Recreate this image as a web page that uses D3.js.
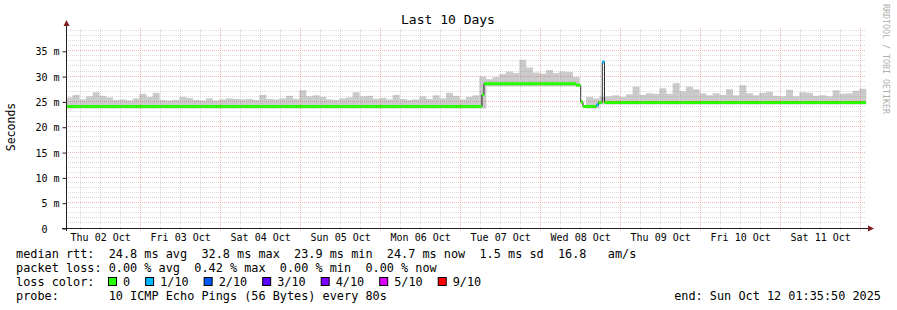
<!DOCTYPE html>
<html lang="en">
<head>
<meta charset="UTF-8">
<script src="https://cdn.jsdelivr.net/npm/d3@7"></script>
<style>
  body { margin: 0; background: #fff; }
  svg text { font-family: "DejaVu Sans Mono", monospace; fill: #000; white-space: pre; }
  .grid { stroke: rgba(143,143,143,0.32); stroke-dasharray: 1,1; shape-rendering: crispEdges; }
  .mgrid { stroke: rgba(222,79,79,0.42); stroke-dasharray: 1,1; shape-rendering: crispEdges; }
</style>
</head>
<body>
<svg width="897" height="310"></svg>
<script>
var startTime = "2025-10-02T01:35:50";
var endTime = "2025-10-12T01:35:50";
var yTicks = [0, 5, 10, 15, 20, 25, 30, 35];

// top of the smoke (ms), one value per 2 hours from the start
var smokeMax = [
  25.8, 26.3, 25.4, 26.0, 26.8, 26.1, 25.8, 25.3, 25.4, 25.2, 25.6, 26.5,
  25.9, 26.7, 25.3, 25.2, 25.3, 25.9, 25.7, 25.3, 25.2, 25.6, 25.2, 25.4,
  25.6, 25.5, 25.4, 25.5, 25.3, 26.3, 25.5, 25.4, 25.6, 26.1, 25.5, 27.2,
  26.0, 26.2, 25.9, 25.4, 25.3, 25.6, 25.8, 26.8, 26.0, 26.1, 25.5, 25.7,
  25.4, 26.3, 25.5, 25.3, 25.4, 26.0, 25.5, 26.2, 25.6, 26.7, 26.1, 25.4,
  25.9, 26.2, 29.9, 29.4, 29.8, 30.4, 30.9, 30.6, 33.2, 31.7, 30.7, 30.5,
  31.2, 30.6, 30.9, 30.8, 29.8, 26.0, 25.9, 25.6, 26.0, 26.0, 26.2, 25.9,
  26.4, 27.9, 26.3, 26.6, 26.5, 27.6, 26.5, 28.6, 27.0, 27.9, 27.4, 26.6,
  26.2, 26.6, 26.3, 27.4, 26.2, 28.2, 26.6, 26.2, 26.7, 26.9, 26.1, 26.0,
  27.3, 26.0, 26.8, 26.7, 26.1, 26.2, 26.0, 27.2, 26.5, 26.6, 27.1, 27.5
];

// bottom of the smoke (ms)
var floorTimes = ["2025-10-02T01:35:50", "2025-10-07T06:23:00", "2025-10-07T06:59:00",
                  "2025-10-08T12:00:00", "2025-10-08T17:20:00"];
var floorValues = [23.6, 25.8, 28.0, 23.6, 24.4];

// median rtt (ms) and number of lost pings, each held until the next time
var medianTimes = ["2025-10-02T01:35:50", "2025-10-07T06:23:00", "2025-10-07T06:59:00",
                   "2025-10-08T10:36:00", "2025-10-08T12:00:00", "2025-10-08T12:41:00",
                   "2025-10-08T16:44:00", "2025-10-08T17:20:00", "2025-10-08T18:29:00",
                   "2025-10-08T19:08:00"];
var medianValues = [24.0, 26.3, 28.5, 28.2, 24.9, 24.0, 24.3, 24.8, 32.8, 24.8];
var medianLoss = [0, 0, 0, 0, 0, 0, 1, 0, 1, 0];

var lossLabels = ["0", "1/10", "2/10", "3/10", "4/10", "5/10", "9/10"];
var lossColors = ["#26ff00", "#00b8ff", "#0059ff", "#5e00ff", "#7e00ff", "#dd00ff", "#ff0000"];

var rttLine = "median rtt:  24.8 ms avg  32.8 ms max  23.9 ms min  24.7 ms now  1.5 ms sd  16.8   am/s";
var lossLine = "packet loss: 0.00 % avg  0.42 % max  0.00 % min  0.00 % now";
var probeLine = "probe:       10 ICMP Echo Pings (56 Bytes) every 80s";
var endLine = "end: Sun Oct 12 01:35:50 2025";

function draw() {
  var svg = d3.select("svg");
  var parse = d3.utcParse("%Y-%m-%dT%H:%M:%S");
  var t0 = parse(startTime), t1 = parse(endTime);

  var x = d3.scaleUtc().domain([t0, t1]).range([66, 866]);
  var y = d3.scaleLinear().domain([0, 39.5]).range([228, 28]);
  var px = function(v) { return Math.floor(v) + 0.5; };

  svg.append("rect").attr("width", 897).attr("height", 310).attr("fill", "#fff");

  var plot = svg.append("g");
  plot.append("clipPath").attr("id", "clip")
    .append("rect").attr("x", 66).attr("y", 22).attr("width", 801).attr("height", 206);

  // smoke
  var fTimes = floorTimes.map(parse);
  function floorAt(t) {
    var i = d3.bisectRight(fTimes, t) - 1;
    return floorValues[Math.max(0, i)];
  }
  plot.append("g").attr("clip-path", "url(#clip)")
    .selectAll("rect").data(smokeMax).enter().append("rect")
    .attr("x", function(d, i) { return x(d3.utcHour.offset(t0, 2 * i)); })
    .attr("width", function(d, i) {
      return x(d3.utcHour.offset(t0, 2 * i + 2)) - x(d3.utcHour.offset(t0, 2 * i)) + 0.3;
    })
    .attr("y", function(d) { return y(d); })
    .attr("height", function(d, i) { return y(floorAt(d3.utcHour.offset(t0, 2 * i))) - y(d); })
    .attr("fill", "#cbcbcb");

  // median: thin dark step line then coloured pieces
  var mTimes = medianTimes.map(parse);
  var pts = mTimes.map(function(t, i) { return [t, medianValues[i]]; });
  pts.push([t1, medianValues[medianValues.length - 1]]);
  var line = d3.line()
    .x(function(d) { return x(d[0]); })
    .y(function(d) { return y(d[1]); })
    .curve(d3.curveStepAfter);
  plot.append("path").datum(pts)
    .attr("d", line).attr("fill", "none").attr("stroke", "#202020").attr("stroke-width", 1);

  plot.append("g").selectAll("line").data(medianValues).enter().append("line")
    .attr("x1", function(d, i) { return x(mTimes[i]); })
    .attr("x2", function(d, i) { return i + 1 < mTimes.length ? x(mTimes[i + 1]) : x(t1); })
    .attr("y1", function(d) { return y(d); })
    .attr("y2", function(d) { return y(d); })
    .attr("stroke", function(d, i) { return lossColors[medianLoss[i]]; })
    .attr("stroke-width", 3);

  // grid, drawn over the graph like rrdtool does
  var grid = svg.append("g");
  var hours = d3.utcHour.every(6).range(t0, t1).filter(function(t) { return t.getUTCHours() != 0; });
  var days = d3.utcDay.range(d3.utcHour.offset(t0, 1), t1);
  var minorY = d3.range(1, 40).filter(function(v) { return v % 5 != 0; });

  grid.selectAll(".gy").data(minorY).enter().append("line").attr("class", "grid")
    .attr("x1", 66).attr("x2", 866)
    .attr("y1", function(d) { return px(y(d)); }).attr("y2", function(d) { return px(y(d)); });
  grid.selectAll(".gx").data(hours).enter().append("line").attr("class", "grid")
    .attr("x1", function(d) { return px(x(d)); }).attr("x2", function(d) { return px(x(d)); })
    .attr("y1", 230).attr("y2", 28);
  grid.selectAll(".my").data(yTicks.slice(1)).enter().append("line").attr("class", "mgrid")
    .attr("x1", 66).attr("x2", 866)
    .attr("y1", function(d) { return px(y(d)); }).attr("y2", function(d) { return px(y(d)); });
  grid.selectAll(".mx").data(days).enter().append("line").attr("class", "mgrid")
    .attr("x1", function(d) { return px(x(d)); }).attr("x2", function(d) { return px(x(d)); })
    .attr("y1", 231).attr("y2", 28);

  // axes
  var yAxis = d3.axisLeft(y).tickValues(yTicks).tickSize(4).tickPadding(3)
    .tickFormat(function(d) { return d == 0 ? "0  " : d + " m"; });
  var ya = svg.append("g").attr("transform", "translate(66.5,0.5)").call(yAxis);
  ya.select(".domain").remove();
  ya.selectAll("line").attr("stroke", "#1f1f1f");
  ya.selectAll("text").attr("font-size", 10).attr("font-family", "DejaVu Sans Mono").attr("dy", "0.36em");

  svg.append("line").attr("x1", 66.5).attr("x2", 66.5).attr("y1", 231).attr("y2", 24)
    .attr("stroke", "#1f1f1f");
  svg.append("line").attr("x1", 62).attr("x2", 869).attr("y1", 228.5).attr("y2", 228.5)
    .attr("stroke", "#1f1f1f");
  svg.append("path").attr("d", "M63.5,26L69.5,26L66.5,20Z").attr("fill", "#801f1f");
  svg.append("path").attr("d", "M868,225.5L868,231.5L874,228.5Z").attr("fill", "#801f1f");

  var noons = d3.utcDay.range(d3.utcDay.floor(t0), t1)
    .map(function(d) { return d3.utcHour.offset(d, 12); })
    .filter(function(d) { return d < t1; });
  var fmt = d3.utcFormat("%a %d %b");
  svg.append("g").selectAll("text").data(noons).enter().append("text")
    .attr("x", function(d) { return x(d); }).attr("y", 241)
    .attr("text-anchor", "middle").attr("font-size", 10)
    .text(fmt);

  // titles
  svg.append("text").attr("x", 448).attr("y", 24).attr("text-anchor", "middle")
    .attr("font-size", 13).text("Last 10 Days");
  svg.append("text").attr("transform", "translate(15,127) rotate(-90)")
    .attr("text-anchor", "middle").attr("font-size", 11.5).text("Seconds");
  svg.append("text").attr("transform", "translate(883,4) rotate(90)")
    .attr("font-size", 8.3).style("fill", "#b0b0b0").text("RRDTOOL / TOBI OETIKER");

  // legend
  var cw = 7.13, fs = 11.85;
  svg.append("text").attr("x", 16).attr("y", 258).attr("font-size", fs).text(rttLine);
  svg.append("text").attr("x", 16).attr("y", 272).attr("font-size", fs).text(lossLine);
  svg.append("text").attr("x", 16).attr("y", 286).attr("font-size", fs).text("loss color:");
  svg.append("text").attr("x", 16).attr("y", 299.5).attr("font-size", fs).text(probeLine);
  svg.append("text").attr("x", 881).attr("y", 299.5).attr("text-anchor", "end")
    .attr("font-size", fs).text(endLine);

  var bx = 108.5, items = [];
  lossLabels.forEach(function(l, i) {
    items.push({label: l, color: lossColors[i], x: bx});
    bx = bx + 15 + l.length * cw + 15;
  });
  var leg = svg.append("g").selectAll("g").data(items).enter().append("g");
  leg.append("rect")
    .attr("x", function(d) { return d.x; }).attr("y", 277.5)
    .attr("width", 8).attr("height", 8)
    .attr("fill", function(d) { return d.color; }).attr("stroke", "#000");
  leg.append("text")
    .attr("x", function(d) { return d.x + 14.5; }).attr("y", 286)
    .attr("font-size", fs).text(function(d) { return d.label; });
}

draw();
</script>
</body>
</html>
